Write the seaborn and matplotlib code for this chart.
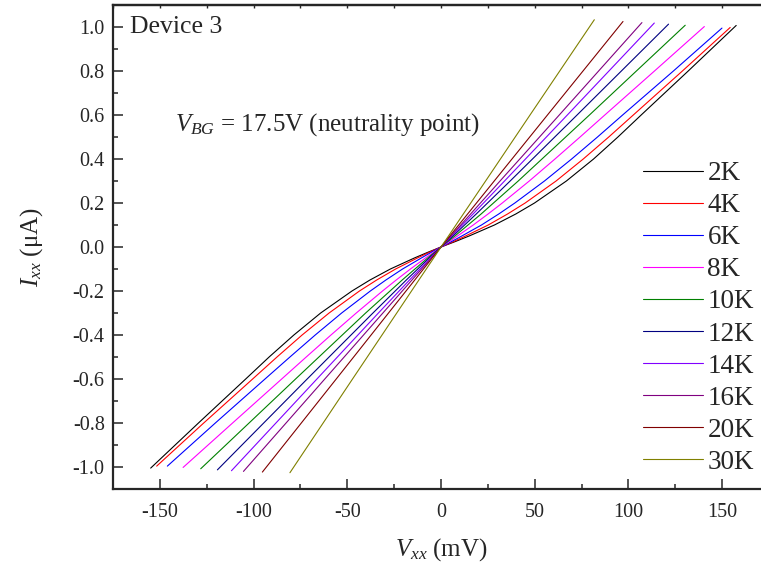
import numpy as np
import pandas as pd
import seaborn as sns
import matplotlib.pyplot as plt
from matplotlib.ticker import MultipleLocator

sns.set_style("ticks")
plt.rcParams['font.family'] = ['Liberation Serif', 'DejaVu Serif']
plt.rcParams['mathtext.fontset'] = 'custom'
plt.rcParams['mathtext.rm'] = 'Liberation Serif'
plt.rcParams['mathtext.it'] = 'Liberation Serif:italic'
plt.rcParams['axes.unicode_minus'] = False

# temperatures and Origin-like colours
temps = ['2K', '4K', '6K', '8K', '10K', '12K', '14K', '16K', '20K', '30K']
colors = ['#000000', '#ff0000', '#0000ff', '#ff00ff', '#008000',
          '#000080', '#8000ff', '#800080', '#800000', '#808000']

# current levels (uA) inside the sweep; dense grid for the curved low-T traces
i_dense = [-0.8, -0.6, -0.5, -0.4, -0.3, -0.2, -0.15, -0.1, -0.05, -0.025, 0.0,
           0.025, 0.05, 0.1, 0.15, 0.2, 0.3, 0.4, 0.5, 0.6, 0.8]
i_sparse = [-0.6, -0.3, -0.15, -0.05, 0.0, 0.05, 0.15, 0.3, 0.6]
# end currents of each sweep
i_low = [-1.005, -0.996, -0.996, -1.002, -1.008, -1.013, -1.017, -1.02, -1.023, -1.026]
i_high = [1.007, 0.998, 0.995, 1.002, 1.008, 1.013, 1.018, 1.02, 1.025, 1.033]

# Vxx (mV) read at i_low, grid..., i_high
v_2K = [-154.9, -129.4, -104.2, -91.7, -78.5, -64.2, -47.5, -37.9, -27.0, -14.2, -7.3, 0,
        7.7, 15.0, 28.5, 39.9, 49.9, 66.9, 81.4, 94.4, 106.8, 131.9, 157.5]
v_4K = [-151.7, -126.6, -100.5, -87.5, -74.1, -59.7, -43.5, -34.3, -24.2, -12.6, -6.5, 0,
        6.8, 13.1, 25.2, 35.5, 44.9, 61.4, 75.9, 89.5, 102.6, 128.8, 154.3]
v_6K = [-146.0, -120.4, -93.9, -80.6, -67.1, -53.0, -37.7, -29.4, -20.5, -10.5, -5.4, 0,
        5.7, 11.1, 21.6, 30.8, 39.4, 55.2, 69.7, 83.5, 96.9, 124.0, 149.9]
v_8K = [-137.6, -111.2, -85.0, -71.9, -58.7, -45.2, -31.2, -23.9, -16.3, -8.3, -4.2, 0,
        4.5, 8.8, 17.2, 25.1, 32.7, 47.1, 60.8, 74.2, 87.4, 113.9, 140.5]
v_10K = [-128.2, -77.6, -40.2, -20.7, -7.1, 0, 7.4, 21.4, 41.2, 79.2, 130.3]
v_12K = [-119.3, -71.4, -36.3, -18.5, -6.3, 0, 6.4, 18.8, 36.9, 72.6, 121.4]
v_14K = [-111.8, -66.2, -33.4, -16.8, -5.6, 0, 5.7, 17.1, 33.9, 67.4, 113.8]
v_16K = [-105.4, -62.0, -31.0, -15.5, -5.2, 0, 5.3, 15.8, 31.5, 63.1, 107.2]
v_20K = [-95.3, -55.9, -28.0, -14.0, -4.7, 0, 4.7, 14.2, 28.4, 56.8, 97.1]
v_30K = [-80.6, -47.2, -23.6, -11.8, -3.9, 0, 4.0, 11.9, 23.8, 47.5, 81.8]

volts = [v_2K, v_4K, v_6K, v_8K, v_10K, v_12K, v_14K, v_16K, v_20K, v_30K]

rows = []
for k, t in enumerate(temps):
    grid = i_dense if k < 4 else i_sparse
    cur = [i_low[k]] + grid + [i_high[k]]
    for v, i in zip(volts[k], cur):
        rows.append({'T': t, 'V': v, 'I': i})
df = pd.DataFrame(rows)

fig = plt.figure(figsize=(7.61, 5.72), dpi=100)
ax = fig.add_axes([113/761, 1 - 489/572, 656/761, 484/572])

sns.lineplot(data=df, x='V', y='I', hue='T', hue_order=temps, palette=colors,
             sort=False, estimator=None, linewidth=0.8, ax=ax)

ax.set_xlim(-175, 175)
ax.set_ylim(-1.1, 1.1)
ax.xaxis.set_major_locator(MultipleLocator(50))
ax.xaxis.set_minor_locator(MultipleLocator(25))
ax.yaxis.set_major_locator(MultipleLocator(0.2))
ax.yaxis.set_minor_locator(MultipleLocator(0.1))
ax.yaxis.set_major_formatter(plt.FuncFormatter(lambda v, p: f'{v:.1f}'))
ax.tick_params(which='major', direction='in', length=7, width=1.1, labelsize=14.5)
ax.tick_params(which='minor', direction='in', length=3.6, width=1.1)
ax.tick_params(axis='x', which='major', pad=10)
ax.tick_params(axis='y', which='major', pad=6)
for s in ax.spines.values():
    s.set_linewidth(1.6)

top = ax.secondary_xaxis('top')
top.xaxis.set_major_locator(MultipleLocator(50))
top.xaxis.set_minor_locator(MultipleLocator(25))
top.tick_params(which='both', direction='in', length=2, width=1, labeltop=False)
top.spines['top'].set_linewidth(1.6)

ax.set_xlabel(r'$V_{xx}$ (mV)', fontsize=18, labelpad=10)
ax.set_ylabel(r'$I_{xx}$ ($\mathrm{\mu}$A)', fontsize=18, labelpad=20)

ax.text(130/761, 1 - 27/572, 'Device 3', transform=fig.transFigure,
        fontsize=18.5, va='center', ha='left')
ax.text(175/761, 1 - 125/572, r'$V_{BG}$ = 17.5V (neutrality point)',
        transform=fig.transFigure, fontsize=18, va='center', ha='left')

handles, labels = ax.get_legend_handles_labels()
ax.legend(handles, labels, frameon=False, fontsize=19.5, loc='center left',
          bbox_to_anchor=(643/761, 1 - 318/572), bbox_transform=fig.transFigure,
          borderpad=0, borderaxespad=0, handlelength=2.2, handletextpad=0.18,
          labelspacing=0.26)

fig.savefig('out.png', dpi=100)
